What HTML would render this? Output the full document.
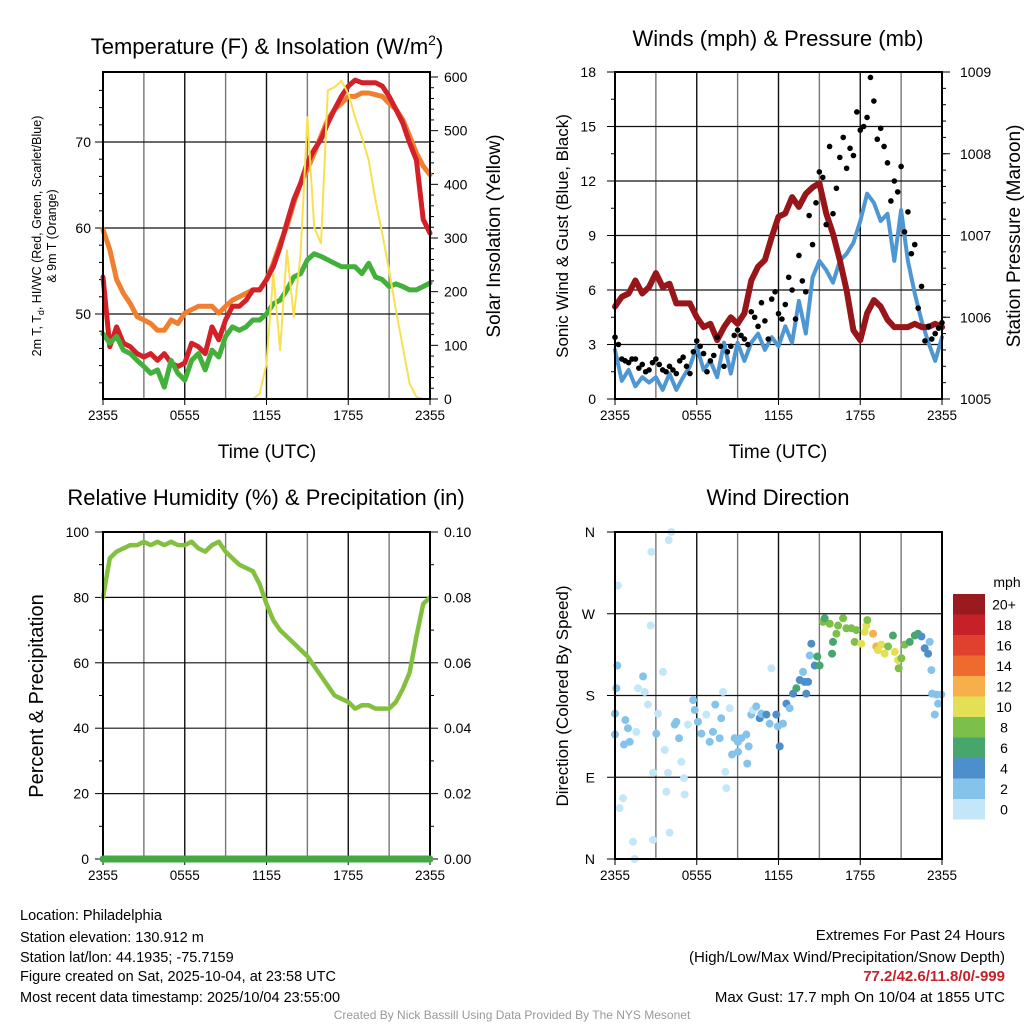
<!DOCTYPE html>
<html><head><meta charset="utf-8">
<style>
body{margin:0;background:#fff;}
svg{display:block;font-family:"Liberation Sans",sans-serif;}
</style></head>
<body>
<svg id="c" width="1024" height="1024" viewBox="0 0 1024 1024" xmlns="http://www.w3.org/2000/svg">
<rect width="1024" height="1024" fill="#fff"/>
<text x="267" y="54" font-size="22" text-anchor="middle">Temperature (F) &amp; Insolation (W/m<tspan dy="-9" font-size="14">2</tspan><tspan dy="9">)</tspan></text>
<text x="778" y="46" font-size="22" text-anchor="middle">Winds (mph) &amp; Pressure (mb)</text>
<text x="266" y="505" font-size="22" text-anchor="middle">Relative Humidity (%) &amp; Precipitation (in)</text>
<text x="778" y="505" font-size="22" text-anchor="middle">Wind Direction</text>

<text transform="translate(41,236) rotate(-90)" font-size="12.5" text-anchor="middle">2m T, T<tspan dy="3" font-size="9">d</tspan><tspan dy="-3">, HI/WC (Red, Green, Scarlet/Blue)</tspan></text>
<text transform="translate(56,236) rotate(-90)" font-size="12.5" text-anchor="middle">&amp; 9m T (Orange)</text>
<text transform="translate(500,236) rotate(-90)" font-size="19" text-anchor="middle">Solar Insolation (Yellow)</text>
<text transform="translate(568,236) rotate(-90)" font-size="17" text-anchor="middle">Sonic Wind &amp; Gust (Blue, Black)</text>
<text transform="translate(1020,236) rotate(-90)" font-size="19" text-anchor="middle">Station Pressure (Maroon)</text>
<text transform="translate(43,696) rotate(-90)" font-size="20" text-anchor="middle">Percent &amp; Precipitation</text>
<text transform="translate(568,696) rotate(-90)" font-size="17" text-anchor="middle">Direction (Colored By Speed)</text>
<text x="267" y="458" font-size="19" text-anchor="middle">Time (UTC)</text>
<text x="778" y="458" font-size="19" text-anchor="middle">Time (UTC)</text>

<g font-size="14.5">
<text x="20" y="920">Location: Philadelphia</text>
<text x="20" y="942">Station elevation: 130.912 m</text>
<text x="20" y="962">Station lat/lon: 44.1935; -75.7159</text>
<text x="20" y="981">Figure created on Sat, 2025-10-04, at 23:58 UTC</text>
<text x="20" y="1002">Most recent data timestamp: 2025/10/04 23:55:00</text>
</g>
<g font-size="15" text-anchor="end">
<text x="1005" y="940">Extremes For Past 24 Hours</text>
<text x="1005" y="962">(High/Low/Max Wind/Precipitation/Snow Depth)</text>
<text x="1005" y="981" fill="#c8202a" font-weight="bold">77.2/42.6/11.8/0/-999</text>
<text x="1005" y="1002">Max Gust: 17.7 mph On 10/04 at 1855 UTC</text>
</g>
<text x="512" y="1019" font-size="12" fill="#999" text-anchor="middle">Created By Nick Bassill Using Data Provided By The NYS Mesonet</text>
<g id="plots"></g>
</svg>
<script>
// ---- data (30-minute steps, 0..24 h from 2355 UTC) ----
const xTickLabels = ["2355","0555","1155","1755","2355"];
const tempRed = [54.3,46.2,48.5,46.6,46.2,45.4,45.0,45.4,44.6,45.4,44.3,43.9,44.3,46.6,46.2,45.4,48.5,47.0,49.3,50.9,50.9,51.6,52.8,52.8,54.0,55.5,57.8,60.6,63.3,65.2,67.6,69.1,70.3,72.2,73.8,75.3,76.5,77.2,76.9,76.9,76.9,76.5,75.3,73.8,72.2,69.9,67.9,61.0,59.4];
const temp9m = [59.8,57.5,54.0,52.4,51.2,49.7,49.3,48.9,48.1,48.1,49.3,48.9,50.1,50.5,50.9,50.9,50.9,50.1,50.9,51.6,52.0,52.4,52.8,52.8,54.0,55.9,58.2,60.2,62.9,65.2,66.8,68.7,70.7,72.6,73.8,74.5,75.3,75.3,75.7,75.7,75.5,75.3,74.5,73.8,72.6,70.7,68.7,67.2,66.2];
const dewpt = [47.7,46.6,47.4,45.8,45.4,44.6,43.9,43.1,43.5,41.5,44.6,43.1,42.3,44.6,45.4,43.5,45.8,45.0,47.4,48.5,48.1,48.5,49.3,49.3,50.0,51.2,51.6,52.8,54.3,54.7,56.3,57.0,56.7,56.3,55.9,55.5,55.5,55.5,54.7,55.9,54.3,54.0,53.2,53.5,53.2,52.8,52.8,53.2,53.6];
const solar = [0,0,0,0,0,0,0,0,0,0,0,0,0,0,0,0,0,0,0,0,0,0,0,10,66,234,91,277,153,271,525,320,290,575,581,593,569,525,488,445,370,308,240,166,97,29,4,0,0];
const pressure = [1006.13,1006.25,1006.29,1006.45,1006.29,1006.37,1006.54,1006.37,1006.41,1006.17,1006.17,1006.17,1006.0,1005.88,1005.92,1005.72,1005.88,1006.0,1005.92,1006.05,1006.45,1006.62,1006.70,1006.98,1007.23,1007.27,1007.47,1007.35,1007.51,1007.59,1007.64,1007.27,1007.02,1006.70,1006.33,1005.84,1005.72,1006.05,1006.21,1006.13,1005.97,1005.88,1005.88,1005.88,1005.92,1005.88,1005.88,1005.92,1005.88];
const windSpd = [2.7,1.0,1.6,0.7,1.2,0.9,1.2,0.5,1.4,0.5,1.2,1.8,2.9,1.6,2.1,1.2,3.1,1.4,3.1,2.1,3.1,3.6,2.7,3.4,2.9,4.0,3.1,5.4,3.6,6.7,7.6,7.1,6.4,7.6,8.0,8.6,9.8,11.3,10.8,9.8,10.2,7.6,10.4,7.6,5.8,4.3,3.1,2.1,3.4];
const gustA = [3.4,2.2,2.0,2.2,1.9,1.6,2.2,1.6,1.8,1.4,2.3,1.4,3.2,2.5,2.1,3.4,1.8,2.9,3.8,3.3,4.8,4.0,4.3,5.5,4.7,5.2,6.0,7.9,5.9,8.5,12.5,9.6,10.2,13.3,12.7,13.4,14.8,15.5,16.4,14.9,13.0,12.0,12.8,10.3,8.5,6.2,4.0,3.6,4.2];
const gustB = [3.0,2.1,2.2,1.7,1.5,2.0,1.9,1.5,1.6,2.1,1.8,2.6,2.9,1.5,2.4,2.9,2.6,3.5,3.5,3.0,4.5,5.3,3.3,5.9,4.4,6.7,4.4,6.5,10.1,10.8,12.2,13.9,11.6,14.4,13.8,15.8,15.0,17.7,14.3,13.9,10.9,11.4,9.2,8.0,5.0,3.2,3.3,3.9];
const rh = [80,92,94,95,96,96,97,96,97,96,97,96,96,97,95,94,96,97,94,92,90,89,88,84,78,73,70,68,66,64,62,59,56,53,50,49,48,46,47,47,46,46,46,48,52,57,68,78,80];
const precip = [0,0,0,0,0,0,0,0,0,0,0,0,0,0,0,0,0,0,0,0,0,0,0,0,0,0,0,0,0,0,0,0,0,0,0,0,0,0,0,0,0,0,0,0,0,0,0,0,0];
const dirHour = [0.22,0,0.1,0,0.17,0.34,0.59,0.76,0.95,1.08,0.66,1.32,1.44,1.57,1.69,2.06,2.18,2.42,2.67,2.62,2.79,2.79,3.03,3.16,3.52,3.65,3.77,3.89,4.01,3.94,4.14,4.38,4.5,4.7,4.87,5.06,5.11,5.35,5.73,5.85,6.09,6.34,6.7,6.95,7.19,7.36,7.68,7.8,7.93,8.1,8.17,8.42,8.59,8.78,9.03,9.03,9.27,9.64,9.71,9.81,10.0,10.13,10.37,10.62,10.74,11.11,11.35,11.48,11.84,11.96,12.09,12.33,12.58,12.82,13.07,13.31,13.56,13.8,13.92,14.04,14.17,14.29,14.41,14.66,14.85,15.02,15.27,15.39,15.76,16.0,15.93,16.25,16.37,16.74,16.98,17.35,17.71,17.59,18.08,18.33,18.45,18.52,18.94,19.18,19.3,19.55,19.79,20.04,20.4,20.53,20.77,21.02,20.82,21.26,21.63,22.0,22.24,22.49,22.73,22.98,23.1,23.22,23.27,23.59,23.71,23.47,23.95];
const dirDeg = [301,137,188,160,213,56,67,153,144,129,126,19,0,140,188,201,184,170,338,257,95,21,138,160,206,120,74,95,29,351,360,148,151,133,107,89,71,148,175,164,151,138,159,129,140,170,133,155,184,96,78,166,115,133,129,118,133,137,105,124,159,164,168,155,160,159,149,210,159,146,124,149,171,166,182,188,197,206,195,182,195,224,237,213,223,213,261,265,259,239,226,248,257,265,254,254,252,239,237,250,257,263,248,234,230,236,226,234,246,228,219,221,210,236,239,246,248,245,232,226,239,208,182,181,171,159,181];
const dirSpd = [0,3,3,3,3,0,1,3,3,3,2,0,0,1,1,3,1,1,1,1,1,1,3,1,1,1,1,1,1,1,1,3,2,3,1,1,1,1,3,3,2,3,1,2,2,3,3,2,1,1,1,1,3,2,3,3,3,3,3,3,2,1,3,4,2,4,2,1,4,2,4,2,4,2,4,6,4,3,4,4,4,3,4,5,6,6,8,6,8,6,6,8,8,8,8,8,8,8,10,10,10,8,12,12,10,10,10,8,6,10,10,8,8,8,6,6,6,4,4,4,2,2,2,2,2,2,2];
const cbarLabels = ["0","2","4","6","8","10","12","14","16","18","20+"];
const cbarColors = ["#c3e7f9","#86c3ea","#4d8fcb","#47a66b","#7cc04b","#e4e056","#f6af4b","#ef6a2e","#e0402e","#c62029","#991b1f"];

const NS="http://www.w3.org/2000/svg";
const root=document.getElementById('plots');
function mk(tag,attrs,parent){const e=document.createElementNS(NS,tag);for(const k in attrs)e.setAttribute(k,attrs[k]);(parent||root).appendChild(e);return e;}
function txt(s,x,y,anchor,size,parent){const t=mk('text',{x:x,y:y,'text-anchor':anchor,'font-size':size},parent);t.textContent=s;return t;}

function panel(L,T,R,B,name){
  const g=mk('g',{});
  
  
  const xs=h=>L+(R-L)*h/24;
  for(let h=3;h<24;h+=3){const l=mk('line',{x1:xs(h),x2:xs(h),y1:T,y2:B,stroke:(h%6==0)?'#111':'#777','stroke-width':1.4},g);}
  xTickLabels.forEach((s,i)=>{const x=xs(i*6);mk('line',{x1:x,x2:x,y1:B,y2:B+6,stroke:'#000'},g);const t=txt(s,x,B+21,'middle',13.5,g);});
  return {g,xs};
}
function hgrid(g,L,R,y){mk('line',{x1:L,x2:R,y1:y,y2:y,stroke:'#111','stroke-width':1.2},g);}
function frame(g,L,T,R,B){mk('rect',{x:L,y:T,width:R-L,height:B-T,fill:'none',stroke:'#000','stroke-width':2},g);}
function line(g,arr,xs,ys,color,w,name){
  const d=arr.map((v,i)=>(i?'L':'M')+xs(i*0.5).toFixed(1)+','+ys(v).toFixed(1)).join(' ');
  const p=mk('path',{d:d,fill:'none',stroke:color,'stroke-width':w,'stroke-linejoin':'round','stroke-linecap':'round'},g);
  
  
  return p;
}

// Panel 1
(function(){
  const L=103,T=72,R=430,B=399;
  const {g,xs}=panel(L,T,R,B,'temperature-panel');
  const yT=v=>314-(v-50)*8.6;
  const yS=v=>399-v*322/600;
  [50,60,70].forEach(v=>{hgrid(g,L,R,yT(v));mk('line',{x1:L-8,x2:L,y1:yT(v),y2:yT(v),stroke:'#000'},g);const t=txt(v,L-12,yT(v)+5,'end',14,g);});
  for(let v=42;v<78;v+=2){if(v%10)mk('line',{x1:L-4,x2:L,y1:yT(v),y2:yT(v),stroke:'#000'},g);}
  [0,100,200,300,400,500,600].forEach(v=>{mk('line',{x1:R,x2:R+8,y1:yS(v),y2:yS(v),stroke:'#000'},g);const t=txt(v,R+14,yS(v)+5,'start',14,g);});
  for(let v=20;v<620;v+=20){if(v%100)mk('line',{x1:R,x2:R+4,y1:yS(v),y2:yS(v),stroke:'#000'},g);}
  line(g,temp9m,xs,yT,'#f08030',5,'series-9m-temp');
  line(g,tempRed,xs,yT,'#d42028',5,'series-2m-temp');
  line(g,dewpt,xs,yT,'#44b03c',5,'series-dewpoint');
  line(g,solar,xs,yS,'#f8e050',2,'series-solar');
  frame(g,L,T,R,B);
})();

// Panel 2
(function(){
  const L=615,T=72,R=942,B=399;
  const {g,xs}=panel(L,T,R,B,'wind-panel');
  const yW=v=>B-v*(B-T)/18;
  const yP=v=>B-(v-1005)*(B-T)/4;
  [0,3,6,9,12,15,18].forEach(v=>{if(v>0&&v<18)hgrid(g,L,R,yW(v));mk('line',{x1:L-8,x2:L,y1:yW(v),y2:yW(v),stroke:'#000'},g);const t=txt(v,L-19,yW(v)+5,'end',14,g);});
  for(let v=1.5;v<18;v+=3)mk('line',{x1:L-4,x2:L,y1:yW(v),y2:yW(v),stroke:'#000'},g);
  [1005,1006,1007,1008,1009].forEach(v=>{mk('line',{x1:R,x2:R+8,y1:yP(v),y2:yP(v),stroke:'#000'},g);const t=txt(v,R+18,yP(v)+5,'start',14,g);});
  for(let v=1005.2;v<1009;v+=0.2)mk('line',{x1:R,x2:R+4,y1:yP(v),y2:yP(v),stroke:'#000'},g);
  line(g,windSpd,xs,yW,'#4f97d2',4,'series-wind-speed');
  line(g,pressure,xs,yP,'#98161a',6,'series-pressure');
  gustA.forEach((v,i)=>{const c=mk('circle',{cx:xs(i*0.5),cy:yW(v),r:2.8,fill:'#000'},g);});
  gustB.forEach((v,i)=>{const c=mk('circle',{cx:xs(i*0.5+0.25),cy:yW(v),r:2.8,fill:'#000'},g);});
  frame(g,L,T,R,B);
})();

// Panel 3
(function(){
  const L=103,T=532,R=430,B=859;
  const {g,xs}=panel(L,T,R,B,'humidity-panel');
  const yR=v=>B-v*(B-T)/100;
  const yQ=v=>B-v*(B-T)/0.1;
  [0,20,40,60,80,100].forEach(v=>{if(v>0&&v<100)hgrid(g,L,R,yR(v));mk('line',{x1:L-8,x2:L,y1:yR(v),y2:yR(v),stroke:'#000'},g);const t=txt(v,L-14,yR(v)+5,'end',14,g);});
  for(let v=10;v<100;v+=20)mk('line',{x1:L-4,x2:L,y1:yR(v),y2:yR(v),stroke:'#000'},g);
  ["0.00","0.02","0.04","0.06","0.08","0.10"].forEach(s=>{const v=+s;mk('line',{x1:R,x2:R+8,y1:yQ(v),y2:yQ(v),stroke:'#000'},g);const t=txt(s,R+14,yQ(v)+5,'start',14,g);});
  for(let v=0.01;v<0.1;v+=0.02)mk('line',{x1:R,x2:R+4,y1:yQ(v),y2:yQ(v),stroke:'#000'},g);
  line(g,rh,xs,yR,'#84c040',4.5,'series-rh');
  frame(g,L,T,R,B);
  line(g,precip,xs,yQ,'#44a844',7,'series-precip');
})();

// Panel 4
(function(){
  const L=615,T=532,R=942,B=859;
  const {g,xs}=panel(L,T,R,B,'direction-panel');
  const yD=v=>B-v*(B-T)/360;
  ["N","E","S","W","N"].forEach((s,i)=>{const v=i*90;if(i>0&&i<4)hgrid(g,L,R,yD(v));mk('line',{x1:L-8,x2:L,y1:yD(v),y2:yD(v),stroke:'#000'},g);const t=txt(s,L-20,yD(v)+5,'end',14,g);});
  const col=s=>cbarColors[Math.min(10,Math.floor(s/2))];
  const n=Math.min(dirHour.length,dirDeg.length,dirSpd.length);
  for(let i=0;i<n;i++){const c=mk('circle',{cx:xs(dirHour[i]),cy:yD(dirDeg[i]),r:4,fill:col(dirSpd[i])},g);}
  frame(g,L,T,R,B);
  const cb=mk('g',{});
  
  
  const h=20.5,top=594;
  cbarColors.forEach((c,i)=>{const y=top+(10-i)*h;mk('rect',{x:953,y:y,width:32,height:h,fill:c},cb);const t=txt(cbarLabels[i],1004,y+h/2+5,'middle',14,cb);});
  const m=txt('mph',1007,587,'middle',14,cb);
})();
</script>
</body></html>
